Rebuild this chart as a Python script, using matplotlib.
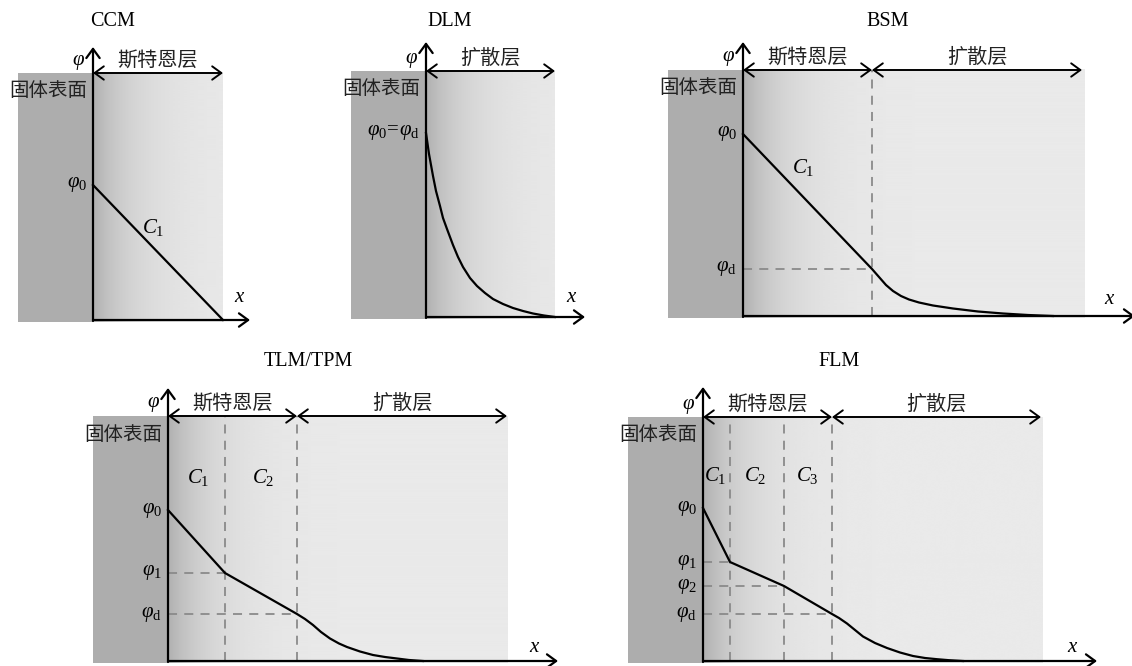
import numpy as np
import matplotlib.pyplot as plt
from matplotlib.patches import Rectangle

plt.rcParams['font.family'] = ['Liberation Serif', 'Noto Sans CJK SC']
plt.rcParams['mathtext.fontset'] = 'custom'
plt.rcParams['mathtext.rm'] = 'Liberation Serif'
plt.rcParams['mathtext.it'] = 'Liberation Serif:italic'

# ---- data (x from the solid surface, phi above the x axis, units = px of the original) ----
titles = ['CCM', 'DLM', 'BSM', 'TLM/TPM', 'FLM']
stern_label = '斯特恩层'
diffuse_label = '扩散层'
surface_label = '固体表面'

ccm_x = [0, 130]
ccm_phi = [135, 0]

dlm_x = [0, 3, 7, 10, 14, 17, 21, 27, 32, 37, 44, 51, 59, 67, 77, 87, 97, 107, 118, 129]
dlm_phi = [184, 163, 141, 126, 111, 99, 88, 72, 60, 50, 39, 31, 24, 18, 13, 9, 6, 3.5, 1.5, 0]

bsm_x = [0, 129, 136, 143, 150, 158, 166, 176, 190, 210, 235, 260, 285, 310]
bsm_phi = [182, 47, 39, 31, 25, 20, 16.5, 13.5, 10.5, 7.5, 4.5, 2.5, 1, 0]

tlm_x = [0, 57, 129, 137, 145, 153, 162, 171, 179, 192, 205, 217, 229, 241, 255]
tlm_phi = [151, 88, 47, 42, 36, 29, 22.5, 17.5, 14, 9.5, 6, 4, 2.5, 1, 0]

flm_x = [0, 27, 81, 129, 136, 144, 152, 160, 172, 184, 197, 210, 222, 234, 246, 260]
flm_phi = [153, 99, 75, 47, 43, 37.5, 31, 24.5, 18, 13, 8.5, 5, 3, 1.8, 0.8, 0]

# layer boundaries and labelled potential levels
bsm_bounds = [129]
tlm_bounds = [57, 129]
flm_bounds = [27, 81, 129]
ccm_levels = [r'$\varphi_0$']
dlm_levels = [r'$\varphi_0\!=\!\varphi_\mathrm{d}$']
bsm_levels = [r'$\varphi_0$', r'$\varphi_\mathrm{d}$']
tlm_levels = [r'$\varphi_0$', r'$\varphi_1$', r'$\varphi_\mathrm{d}$']
flm_levels = [r'$\varphi_0$', r'$\varphi_1$', r'$\varphi_2$', r'$\varphi_\mathrm{d}$']
cap_labels = [r'$C_1$', r'$C_2$', r'$C_3$']

# ---- layout ----
W, H = 1132, 666
fig = plt.figure(figsize=(W / 100, H / 100), dpi=100)

panels = [
    dict(title=titles[0], origin=(93, 320), top=247, shade=130, ytip=273, xtip=157,
         layers=[(0, 130, stern_label)], x=ccm_x, phi=ccm_phi, bounds=[], levels=ccm_levels,
         caps=[(60, 93)], title_pos=(20, 298), xlab=(147, 22)),
    dict(title=titles[1], origin=(426, 317), top=246, shade=129, ytip=275, xtip=159,
         layers=[(0, 129, diffuse_label)], x=dlm_x, phi=dlm_phi, bounds=[], levels=dlm_levels,
         caps=[], title_pos=(24, 295), xlab=(146, 19)),
    dict(title=titles[2], origin=(743, 316), top=246, shade=342, ytip=274, xtip=392,
         layers=[(0, 129, stern_label), (129, 339, diffuse_label)], x=bsm_x, phi=bsm_phi,
         bounds=bsm_bounds, levels=bsm_levels, caps=[(60, 148)], title_pos=(145, 294),
         xlab=(367, 17)),
    dict(title=titles[3], origin=(168, 661), top=245, shade=340, ytip=273, xtip=390,
         layers=[(0, 129, stern_label), (129, 339, diffuse_label)], x=tlm_x, phi=tlm_phi,
         bounds=tlm_bounds, levels=tlm_levels, caps=[(30, 184), (95, 184)],
         title_pos=(140, 299), xlab=(367, 13)),
    dict(title=titles[4], origin=(703, 661), top=244, shade=339, ytip=274, xtip=394,
         layers=[(0, 129, stern_label), (129, 338, diffuse_label)], x=flm_x, phi=flm_phi,
         bounds=flm_bounds, levels=flm_levels, caps=[(12, 185), (52, 185), (104, 185)],
         title_pos=(136, 299), xlab=(370, 13)),
]

axis_arrow = dict(arrowstyle='->,head_length=0.55,head_width=0.4', lw=1.6, color='black',
                  shrinkA=0, shrinkB=0, mutation_scale=12)
layer_arrow = dict(arrowstyle='<->,head_length=0.55,head_width=0.4', lw=1.4, color='black',
                   shrinkA=0, shrinkB=0, mutation_scale=12)
dash_kw = dict(color='#8a8a8a', lw=1.3, dashes=(5, 4), zorder=2)
cjk = ['Noto Sans CJK SC']

for p in panels:
    ox, oy = p['origin']
    x0, x1, y0, y1 = -110, 420, -12, 320
    ax = fig.add_axes([(ox + x0) / W, (H - oy + y0) / H, (x1 - x0) / W, (y1 - y0) / H])
    top, shade = p['top'], p['shade']

    # solid surface and graded electrolyte
    ax.add_patch(Rectangle((-75, -2), 75, top + 2, facecolor='#adadad', lw=0, zorder=0))
    gx = np.linspace(0, shade, 4 * shade)
    g = 0.918 - (0.918 - 0.69) * np.exp(-gx / 42)
    ax.imshow(g[np.newaxis, :], cmap='gray', vmin=0, vmax=1, aspect='auto',
              extent=(0, shade, -2, top), interpolation='bicubic', zorder=0)

    # axes
    ax.annotate('', xy=(0, p['ytip']), xytext=(0, -1), arrowprops=axis_arrow, zorder=4)
    ax.annotate('', xy=(p['xtip'], 0), xytext=(0, 0), arrowprops=axis_arrow, zorder=4)
    ax.text(-8, top + 11, r'$\varphi$', fontsize=15, ha='right', va='center')
    ax.text(p['xlab'][0], p['xlab'][1], r'$x$', fontsize=15, ha='center', va='center')
    ax.text(-45, top - 18, surface_label, fontsize=14, family=cjk, ha='center', va='center',
            color='#222222')

    # layer extents
    for a, b, lab in p['layers']:
        ax.annotate('', xy=(b, top), xytext=(a, top), arrowprops=layer_arrow, zorder=4)
        ax.text((a + b) / 2, top + 13, lab, fontsize=14.5, family=cjk, ha='center',
                va='center', color='#222222')

    # boundaries with the potential at each one
    xs, ph = p['x'], p['phi']
    for bx in p['bounds']:
        ax.plot([bx, bx], [0, top], **dash_kw)
        ax.plot([0, bx], [ph[xs.index(bx)]] * 2, **dash_kw)

    # labelled potential levels: phi0 then one per boundary
    lvl_vals = [ph[0]] + [ph[xs.index(bx)] for bx in p['bounds']]
    for lab, v in zip(p['levels'], lvl_vals):
        ax.text(-6, v, lab, fontsize=15, ha='right', va='center')

    for lab, (cx, cy) in zip(cap_labels, p['caps']):
        ax.text(cx, cy, lab, fontsize=15, ha='center', va='center')

    ax.plot(xs, ph, color='black', lw=1.6, solid_joinstyle='round', zorder=3)
    ax.text(p['title_pos'][0], p['title_pos'][1], p['title'], fontsize=14.5,
            ha='center', va='center')

    ax.set_xlim(x0, x1)
    ax.set_ylim(y0, y1)
    ax.axis('off')

fig.savefig('out.png', dpi=100)
